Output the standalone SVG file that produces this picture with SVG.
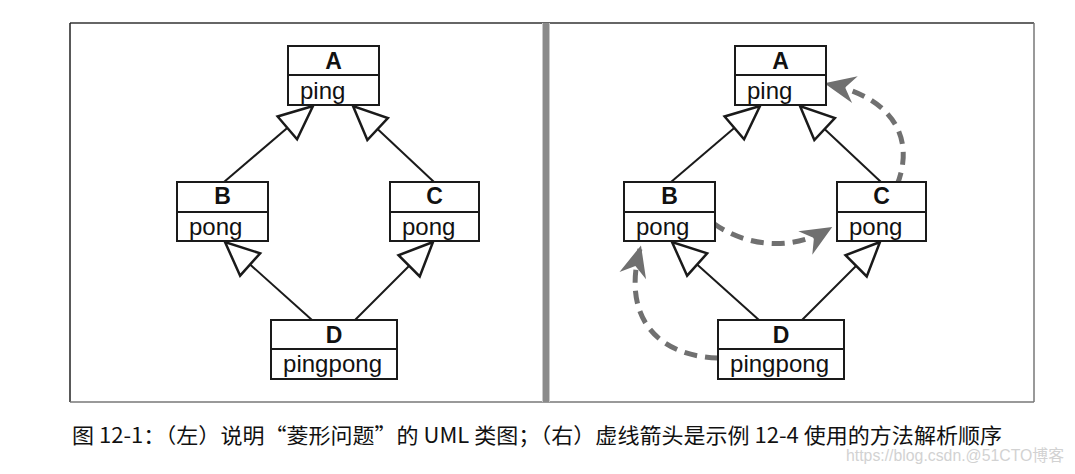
<svg xmlns="http://www.w3.org/2000/svg" width="1075" height="474" viewBox="0 0 1075 474">
<style>
.box{fill:#fff;stroke:#1a1a1a;stroke-width:2}
.div{stroke:#1a1a1a;stroke-width:2}
.name{font-family:"Liberation Sans",Arial,sans-serif;font-weight:bold;font-size:23px;fill:#111;text-anchor:middle}
.attr{font-family:"Liberation Sans",Arial,sans-serif;font-size:24px;fill:#111}
.inh{fill:none;stroke:#1a1a1a;stroke-width:2}
.mro{fill:none;stroke:#707070;stroke-width:5;stroke-dasharray:13 8}
.cap{font-family:"Noto Sans CJK SC","Liberation Sans",sans-serif;font-size:21px;fill:#111}
</style>
<defs>
<marker id="tri" markerUnits="userSpaceOnUse" markerWidth="40" markerHeight="40" viewBox="-30 -15 32 30" refX="0" refY="0" orient="auto">
<path d="M0,0 L-27,-12 L-27,12 Z" fill="#fff" stroke="#1a1a1a" stroke-width="2" stroke-linejoin="miter"/>
</marker>
<marker id="dart" markerUnits="userSpaceOnUse" markerWidth="40" markerHeight="40" viewBox="-28 -16 32 32" refX="0" refY="0" orient="auto">
<path d="M3,0 L-22,-11 L-14,0 L-22,11 Z" fill="#707070"/>
</marker>
</defs>
<rect width="1075" height="474" fill="#fff"/>
<g id="frame">
<line x1="70" y1="23" x2="1034" y2="23" stroke="#333" stroke-width="1.5"/>
<line x1="70" y1="23" x2="70" y2="402" stroke="#222" stroke-width="1.5"/>
<line x1="1034" y1="23" x2="1034" y2="402" stroke="#777" stroke-width="1.5"/>
<line x1="70" y1="402" x2="1034" y2="402" stroke="#777" stroke-width="1.5"/>
<rect x="543" y="23" width="6" height="379" fill="#8a8a8a"/>
<rect x="542" y="23" width="1" height="379" fill="#c8c8c8"/>
<rect x="549" y="23" width="1" height="379" fill="#c8c8c8"/>
</g>
<g id="connectors">
<line class="inh" x1="224" y1="182" x2="313" y2="106" marker-end="url(#tri)"/>
<line class="inh" x1="434" y1="182" x2="353" y2="106" marker-end="url(#tri)"/>
<line class="inh" x1="312" y1="320" x2="225" y2="242" marker-end="url(#tri)"/>
<line class="inh" x1="355" y1="320" x2="433" y2="242" marker-end="url(#tri)"/>
<line class="inh" x1="671" y1="182" x2="760" y2="106" marker-end="url(#tri)"/>
<line class="inh" x1="881" y1="182" x2="800" y2="106" marker-end="url(#tri)"/>
<line class="inh" x1="759" y1="320" x2="672" y2="242" marker-end="url(#tri)"/>
<line class="inh" x1="802" y1="320" x2="880" y2="242" marker-end="url(#tri)"/>
<path class="mro" d="M713,223 C745,246 790,252 829,229" marker-end="url(#dart)"/>
<path class="mro" d="M897,185 C915,140 895,98 828,84" marker-end="url(#dart)"/>
<path class="mro" d="M718,358 C655,356 622,315 640,249" marker-end="url(#dart)"/>
</g>
<g id="A_left">
<rect class="box" x="288" y="46" width="91" height="59"/>
<line class="div" x1="288" y1="75" x2="379" y2="75"/>
<text class="name" x="333.5" y="69">A</text>
<text class="attr" x="300" y="99">ping</text>
</g>
<g id="B_left">
<rect class="box" x="177" y="182" width="91" height="59"/>
<line class="div" x1="177" y1="212" x2="268" y2="212"/>
<text class="name" x="222.5" y="204">B</text>
<text class="attr" x="189" y="235">pong</text>
</g>
<g id="C_left">
<rect class="box" x="390" y="182" width="89" height="59"/>
<line class="div" x1="390" y1="212" x2="479" y2="212"/>
<text class="name" x="434.5" y="204">C</text>
<text class="attr" x="402" y="235">pong</text>
</g>
<g id="D_left">
<rect class="box" x="271" y="320" width="126" height="59"/>
<line class="div" x1="271" y1="349" x2="397" y2="349"/>
<text class="name" x="334" y="343">D</text>
<text class="attr" x="283" y="372" textLength="99">pingpong</text>
</g>
<g id="A_right">
<rect class="box" x="735" y="46" width="91" height="59"/>
<line class="div" x1="735" y1="75" x2="826" y2="75"/>
<text class="name" x="780.5" y="69">A</text>
<text class="attr" x="747" y="99">ping</text>
</g>
<g id="B_right">
<rect class="box" x="624" y="182" width="91" height="59"/>
<line class="div" x1="624" y1="212" x2="715" y2="212"/>
<text class="name" x="669.5" y="204">B</text>
<text class="attr" x="636" y="235">pong</text>
</g>
<g id="C_right">
<rect class="box" x="837" y="182" width="89" height="59"/>
<line class="div" x1="837" y1="212" x2="926" y2="212"/>
<text class="name" x="881.5" y="204">C</text>
<text class="attr" x="849" y="235">pong</text>
</g>
<g id="D_right">
<rect class="box" x="718" y="320" width="126" height="59"/>
<line class="div" x1="718" y1="349" x2="844" y2="349"/>
<text class="name" x="781" y="343">D</text>
<text class="attr" x="730" y="372" textLength="99">pingpong</text>
</g>
<g id="caption">
<text class="cap" x="72" y="443" textLength="930" lengthAdjust="spacingAndGlyphs">图 12-1：（左）说明“菱形问题”的 UML 类图；（右）虚线箭头是示例 12-4 使用的方法解析顺序</text>
<text x="846" y="461" font-family="Liberation Sans,'Noto Sans CJK SC',sans-serif" font-size="16" fill="#d2d2d2" textLength="218" lengthAdjust="spacingAndGlyphs">https://blog.csdn.@51CTO博客</text>
</g>
</svg>
